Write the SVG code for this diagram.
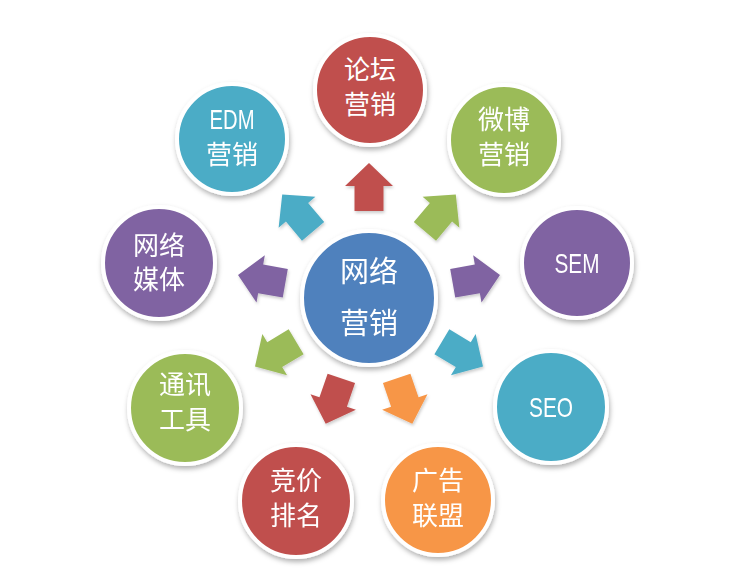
<svg xmlns="http://www.w3.org/2000/svg" width="755" height="568" viewBox="0 0 755 568">
<style>
.c{stroke:#fff;stroke-width:4;filter:url(#sh)}
.t{font-family:"Noto Sans CJK SC","Noto Sans",sans-serif;font-size:26px;fill:#fff;text-anchor:middle}
.l{font-family:"Liberation Sans Narrow","Liberation Sans",sans-serif;font-size:28px;fill:#fff;text-anchor:middle}
.big{font-size:29px}
.red{fill:#C0504D}.grn{fill:#9BBB59}.pur{fill:#8064A2}.tea{fill:#4BACC6}.org{fill:#F79646}.blu{fill:#4F81BD}
</style>
<defs>
<filter id="sh" x="-20%" y="-20%" width="140%" height="150%">
<feDropShadow dx="1" dy="3" stdDeviation="2.5" flood-color="#000" flood-opacity="0.3"/>
</filter>
<filter id="ash" x="-30%" y="-30%" width="160%" height="160%">
<feDropShadow dx="1" dy="2" stdDeviation="1.5" flood-color="#000" flood-opacity="0.2"/>
</filter>
<path id="arr" d="M0,-25 L24,-2 L14.5,-2 L14.5,23 L-14.5,23 L-14.5,-2 L-24,-2 Z"/>
</defs>
<rect width="755" height="568" fill="#fff"/>
<g id="connectors" filter="url(#ash)">
<use href="#arr" class="red" transform="translate(369,298) rotate(0) translate(0,-110)"/>
<use href="#arr" class="grn" transform="translate(369,298) rotate(40) translate(0,-110)"/>
<use href="#arr" class="pur" transform="translate(369,298) rotate(80) translate(0,-108)"/>
<use href="#arr" class="tea" transform="translate(369,298) rotate(121) translate(0,-108)"/>
<use href="#arr" class="org" transform="translate(369,298) rotate(161) translate(0,-108)"/>
<use href="#arr" class="red" transform="translate(369,298) rotate(199) translate(0,-108)"/>
<use href="#arr" class="grn" transform="translate(369,298) rotate(239) translate(0,-108)"/>
<use href="#arr" class="pur" transform="translate(369,298) rotate(280) translate(0,-108)"/>
<use href="#arr" class="tea" transform="translate(369,298) rotate(320) translate(0,-110)"/>
</g>
<g id="center">
<circle class="c blu" cx="369" cy="298" r="67"/>
<text class="t big" x="369" y="282">网络</text>
<text class="t big" x="369" y="334">营销</text>
</g>
<g id="n-luntan">
<circle class="c red" cx="370" cy="90" r="55"/>
<text class="t" x="370" y="79">论坛</text>
<text class="t" x="370" y="114">营销</text>
</g>
<g id="n-weibo">
<circle class="c grn" cx="504" cy="140" r="55"/>
<text class="t" x="504" y="129">微博</text>
<text class="t" x="504" y="164">营销</text>
</g>
<g id="n-sem">
<circle class="c pur" cx="577" cy="263" r="55"/>
<text class="l" x="577" y="273" textLength="45" lengthAdjust="spacingAndGlyphs">SEM</text>
</g>
<g id="n-seo">
<circle class="c tea" cx="551" cy="407" r="56"/>
<text class="l" x="551" y="417" textLength="44" lengthAdjust="spacingAndGlyphs">SEO</text>
</g>
<g id="n-guanggao">
<circle class="c org" cx="438" cy="500" r="55"/>
<text class="t" x="438" y="490">广告</text>
<text class="t" x="438" y="525">联盟</text>
</g>
<g id="n-jingjia">
<circle class="c red" cx="296" cy="501" r="56"/>
<text class="t" x="296" y="490">竞价</text>
<text class="t" x="296" y="525">排名</text>
</g>
<g id="n-tongxun">
<circle class="c grn" cx="185" cy="408" r="56"/>
<text class="t" x="185" y="394">通讯</text>
<text class="t" x="185" y="429">工具</text>
</g>
<g id="n-meiti">
<circle class="c pur" cx="159" cy="263" r="56"/>
<text class="t" x="159" y="255">网络</text>
<text class="t" x="159" y="289">媒体</text>
</g>
<g id="n-edm">
<circle class="c tea" cx="232" cy="139" r="55"/>
<text class="l" x="232" y="129" textLength="45" lengthAdjust="spacingAndGlyphs">EDM</text>
<text class="t" x="232" y="164">营销</text>
</g>
</svg>
